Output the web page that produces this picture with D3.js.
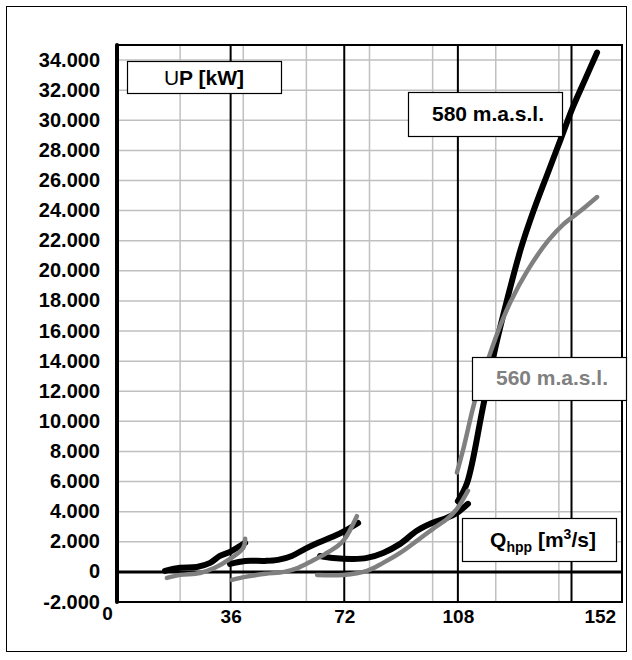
<!DOCTYPE html>
<html>
<head>
<meta charset="utf-8">
<script src="https://cdn.jsdelivr.net/npm/d3@7"></script>
<style>
  body { margin: 0; background: #fff; }
  svg text { font-family: "Liberation Sans", Arial, sans-serif; font-weight: bold; }
</style>
</head>
<body>
<svg id="chart"></svg>
<script>
// Q [m3/s] vs UP [kW], one list of [Q, P] per plotted segment
const h580_seg1 = [[15.2, 70], [20, 270], [25.3, 330], [29.5, 600], [32.6, 1060], [35.8, 1330], [40.6, 1930]];
const h580_seg2 = [[35.8, 530], [40.6, 730], [46.9, 730], [51, 800], [55.4, 1060], [59.6, 1530], [63.7, 1930], [69, 2400], [72.2, 2730], [76.4, 3250]];
const h580_seg3 = [[64.3, 1060], [68.5, 930], [74.8, 860], [79.2, 930], [84.3, 1260], [89.7, 1860], [95, 2730], [100, 3260], [104.6, 3600], [107.7, 3920], [111.2, 4520]];
const h580_seg4 = [[108, 4700], [110.9, 5900], [116, 11000], [120, 15000], [123.5, 18000], [128, 21500], [132, 24000], [136.5, 26500], [140.5, 28700], [144.5, 30900], [148.5, 32800], [152.1, 34500]];

const h560_seg1 = [[15.8, -400], [20, -200], [26.3, -70], [31, 270], [35.8, 860], [40, 1600], [40.6, 2200]];
const h560_seg2 = [[36.4, -530], [40.6, -330], [47, -130], [53, 0], [57.4, 270], [61.8, 730], [66, 1200], [70, 1730], [72.2, 2200], [76, 3700]];
const h560_seg3 = [[63.4, -200], [71.6, -200], [79.2, 70], [84.3, 600], [89.7, 1260], [95, 2060], [100.1, 2860], [104.6, 3520], [107.7, 4190], [111.2, 5390]];
const h560_seg4 = [[107.7, 6600], [110, 8400], [113.4, 11370], [118.2, 14500], [121.5, 16400], [124.8, 18000], [130, 20000], [136.6, 22000], [141.5, 23100], [147, 24000], [152.1, 24900]];

const yTicks = d3.range(-2000, 34001, 2000);
const xLabels = [0, 36, 72, 108, 152];
const xMajor = [36, 72, 108, 144];
const xMinor = [20, 40, 60, 80, 100, 120, 140];

const svg = d3.select("#chart")
    .attr("width", 632)
    .attr("height", 660);

// outer frame
svg.append("rect")
    .attr("x", 6.5).attr("y", 6.5)
    .attr("width", 620).attr("height", 645)
    .attr("fill", "none")
    .attr("stroke", "#000")
    .attr("stroke-width", 1);

const margin = { top: 45, right: 10, bottom: 58, left: 117 },
      width = 632 - margin.left - margin.right,
      height = 660 - margin.top - margin.bottom;

const chart = svg.append("g")
    .attr("transform", `translate(${margin.left}, ${margin.top})`);

const x = d3.scaleLinear().domain([0, 160]).range([0, width]);
const y = d3.scaleLinear().domain([-2000, 35000]).range([height, 0]);

const fmt = d3.formatLocale({ decimal: ",", thousands: ".", grouping: [3], currency: ["", ""], minus: "-" }).format(",");

// gray grid
chart.append("g")
    .selectAll("line")
    .data(yTicks.filter(d => d !== 0 && d !== -2000))
    .join("line")
    .attr("x1", 0).attr("x2", width)
    .attr("y1", d => y(d)).attr("y2", d => y(d))
    .attr("stroke", "#c0c0c0")
    .attr("stroke-width", 1.5);

chart.append("g")
    .selectAll("line")
    .data(xMinor)
    .join("line")
    .attr("x1", d => x(d)).attr("x2", d => x(d))
    .attr("y1", 0).attr("y2", height)
    .attr("stroke", "#c0c0c0")
    .attr("stroke-width", 1.5);

// black verticals
chart.append("g")
    .selectAll("line")
    .data(xMajor)
    .join("line")
    .attr("x1", d => x(d)).attr("x2", d => x(d))
    .attr("y1", 0).attr("y2", height)
    .attr("stroke", "#000")
    .attr("stroke-width", 2);

// plot frame
chart.append("rect")
    .attr("width", width).attr("height", height)
    .attr("fill", "none")
    .attr("stroke", "#000")
    .attr("stroke-width", 2);

// zero line
chart.append("line")
    .attr("x1", 0).attr("x2", width)
    .attr("y1", y(0)).attr("y2", y(0))
    .attr("stroke", "#000")
    .attr("stroke-width", 3);

// left axis line
chart.append("line")
    .attr("x1", 0).attr("x2", 0)
    .attr("y1", 0).attr("y2", height)
    .attr("stroke", "#000")
    .attr("stroke-width", 4)
    .attr("stroke-linecap", "round");

// axes (labels only)
const yAxis = chart.append("g")
    .call(d3.axisLeft(y).tickValues(yTicks).tickFormat(fmt).tickSize(0).tickPadding(17));
yAxis.select(".domain").remove();
yAxis.selectAll("text")
    .attr("fill", "#000")
    .style("font-size", "20px")
    .attr("dy", "0.3em");

const xAxis = chart.append("g")
    .attr("transform", `translate(0, ${height})`)
    .call(d3.axisBottom(x).tickValues(xLabels).tickFormat(d3.format("d")).tickSize(0).tickPadding(8));
xAxis.select(".domain").remove();
xAxis.selectAll("text")
    .attr("fill", "#000")
    .style("font-size", "19px")
    .attr("dx", d => d === 0 ? -10 : d === 152 ? 3 : 0)
    .attr("dy", d => d === 0 ? "0.55em" : "0.68em");

// curves
const line = d3.line()
    .x(d => x(d[0]))
    .y(d => y(d[1]))
    .curve(d3.curveCatmullRom.alpha(0.5));

const plotArea = chart.append("g");

plotArea.selectAll(".s580")
    .data([h580_seg1, h580_seg2, h580_seg3, h580_seg4])
    .join("path")
    .attr("class", "s580")
    .attr("d", line)
    .attr("fill", "none")
    .attr("stroke", "#000")
    .attr("stroke-width", 6)
    .attr("stroke-linecap", "round")
    .attr("stroke-linejoin", "round");

plotArea.selectAll(".s560")
    .data([h560_seg1, h560_seg2, h560_seg3, h560_seg4])
    .join("path")
    .attr("class", "s560")
    .attr("d", line)
    .attr("fill", "none")
    .attr("stroke", "#808080")
    .attr("stroke-width", 4.5)
    .attr("stroke-linecap", "round")
    .attr("stroke-linejoin", "round");

// label boxes
function labelBox(bx, by, bw, bh) {
    const g = svg.append("g").attr("transform", `translate(${bx}, ${by})`);
    g.append("rect")
        .attr("x", 0.5).attr("y", 0.5)
        .attr("width", bw).attr("height", bh)
        .attr("fill", "#fff")
        .attr("stroke", "#000")
        .attr("stroke-width", 1.2);
    return g;
}

const upBox = labelBox(127, 61, 154, 32);
const upText = upBox.append("text")
    .attr("x", 77).attr("y", 24)
    .attr("text-anchor", "middle")
    .style("font-size", "21px")
    .attr("fill", "#000");
upText.append("tspan").style("font-weight", "normal").text("U");
upText.append("tspan").text("P [kW]");

const b580 = labelBox(408, 92, 154, 44);
b580.append("text")
    .attr("x", 80).attr("y", 29)
    .attr("text-anchor", "middle")
    .style("font-size", "21px")
    .attr("fill", "#000")
    .text("580 m.a.s.l.");

const b560 = labelBox(472, 357, 154, 43);
b560.append("text")
    .attr("x", 80).attr("y", 28)
    .attr("text-anchor", "middle")
    .style("font-size", "21px")
    .attr("fill", "#808080")
    .text("560 m.a.s.l.");

const bQ = labelBox(462, 518, 154, 43);
const qText = bQ.append("text")
    .attr("x", 81).attr("y", 29)
    .attr("text-anchor", "middle")
    .style("font-size", "21px")
    .attr("fill", "#000");
qText.append("tspan").text("Q");
qText.append("tspan").attr("dy", 5).style("font-size", "14px").text("hpp");
qText.append("tspan").attr("dy", -5).text(" [m");
qText.append("tspan").attr("dy", -8).style("font-size", "14px").text("3");
qText.append("tspan").attr("dy", 8).text("/s]");
</script>
</body>
</html>
